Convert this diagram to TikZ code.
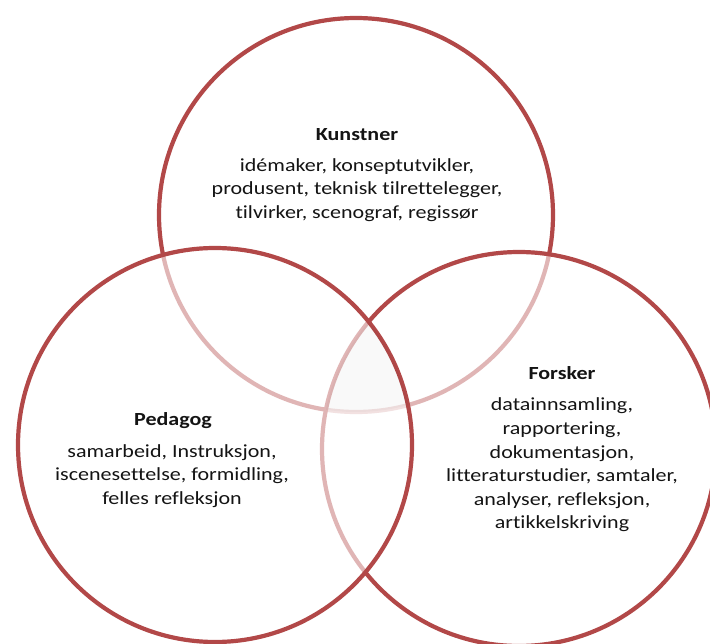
\documentclass[tikz,border=0pt]{standalone}
\usepackage{fontspec}
\setmainfont{Carlito}[Ligatures=NoCommon, FakeStretch=1.19]
\definecolor{ringred}{RGB}{178,72,72}
\definecolor{txt}{RGB}{20,20,20}
\begin{document}
\begin{tikzpicture}[x=1pt,y=-1pt,
  ring/.style={circle, minimum size=394pt, inner sep=0pt, draw=ringred, line width=4.2pt, fill=white, fill opacity=0.6, draw opacity=1},
  title/.style={font=\bfseries\fontsize{18.5}{23.5}\selectfont, text=txt, inner sep=0pt},
  body/.style={font=\fontsize{18.5}{23.6}\selectfont, align=center, text=txt, inner sep=0pt}]
\useasboundingbox[fill=white] (0,0) rectangle (710,644);
% circles: bottom to top
\node[ring] (top) at (356,215) {};
\node[ring] (right) at (519,449) {};
\node[ring] (left) at (215,445) {};
% faint shade in the common region
\begin{scope}
  \clip (top.center) circle[radius=197];
  \clip (left.center) circle[radius=197];
  \fill[black, opacity=0.025] (right.center) circle[radius=197];
\end{scope}
% texts
\node[title] (kt) at (357,135) {Kunstner};
\node[body] (kb) at (357,190) {idémaker, konseptutvikler,\\produsent, teknisk tilrettelegger,\\tilvirker, scenograf, regissør};
\node[title] (pt) at (173,421) {Pedagog};
\node[body] (pb) at (172,476) {samarbeid, Instruksjon,\\iscenesettelse, formidling,\\felles refleksjon};
\node[title] (ft) at (562,373) {Forsker};
\node[body] (fb) at (562,465) {datainnsamling,\\rapportering,\\dokumentasjon,\\litteraturstudier, samtaler,\\analyser, refleksjon,\\artikkelskriving};
\end{tikzpicture}
\end{document}
